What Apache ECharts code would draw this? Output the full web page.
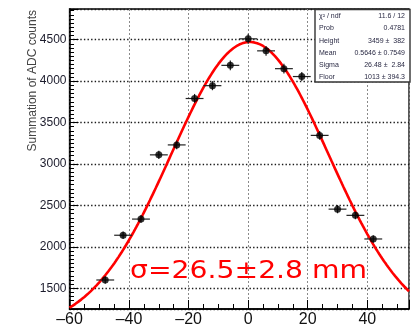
<!DOCTYPE html>
<html>
<head>
<meta charset="utf-8">
<script src="https://cdn.jsdelivr.net/npm/echarts@6/dist/echarts.min.js"></script>
<style>
  html, body { margin: 0; padding: 0; background: #fff; }
  #chart { width: 412px; height: 328px; }
</style>
</head>
<body>
<div id="chart"></div>
<script>
// Beam profile: summed ADC counts per position bin, with Gaussian + floor fit
const binCenters = [-48, -42, -36, -30, -24, -18, -12, -6, 0, 6, 12, 18, 24, 30, 36, 42];
const counts     = [1600, 2140, 2335, 3110, 3230, 3790, 3945, 4190, 4510, 4365, 4150, 4055, 3345, 2455, 2380, 2095];
const xErrors    = [3, 3, 3, 3, 3, 3, 3, 3, 3, 3, 3, 3, 3, 3, 3, 3];
const yErrors    = [45, 45, 48, 50, 52, 55, 55, 58, 60, 58, 58, 55, 52, 50, 48, 45];

// Fit parameters (shown in the statistics box)
const fitHeight = 3459;
const fitMean = 0.5646;
const fitSigma = 26.48;
const fitFloor = 1013;

const statNames  = ['\u03C7\u00B2 / ndf', 'Prob', 'Height', 'Mean', 'Sigma', 'Floor'];
const statValues = ['11.6 / 12', '0.4781', '3459 \u00B1  382', '0.5646 \u00B1 0.7549', '26.48 \u00B1  2.84', '1013 \u00B1 394.3'];

const xTickLabels = [-60, -40, -20, 0, 20, 40];
const yTickLabels = [1500, 2000, 2500, 3000, 3500, 4000, 4500];

const xMin = -60, xMax = 54;
const yMin = 1250, yMax = 4870;

const annotation = '\u03C3=26.5\u00B12.8 mm';
const yTitle = 'Summation of ADC counts';

// Fit curve sampled along the x range
const fitCurve = [];
for (let x = xMin; x <= xMax + 1e-9; x += 0.5) {
  const u = (x - fitMean) / fitSigma;
  fitCurve.push([x, fitFloor + fitHeight * Math.exp(-0.5 * u * u)]);
}

const points = binCenters.map((x, i) => [x, counts[i], xErrors[i], yErrors[i]]);

const chart = echarts.init(document.getElementById('chart'), null, { renderer: 'canvas' });

const FONT = 'Liberation Sans, Arial, sans-serif';

const statGraphics = [];
const boxX = 315, boxY = 9.5, boxW = 95, boxH = 72.5;
statGraphics.push({
  type: 'rect',
  shape: { x: boxX, y: boxY, width: boxW, height: boxH },
  style: { fill: '#fff', stroke: '#333', lineWidth: 1.4 },
  z: 100
});
statNames.forEach((name, i) => {
  const ty = 16 + i * 12.3;
  statGraphics.push({
    type: 'text', x: boxX + 4, y: ty, z: 101,
    style: { text: name, font: '7px ' + FONT, fill: '#2a2a44', align: 'left', verticalAlign: 'middle' }
  });
  statGraphics.push({
    type: 'text', x: boxX + boxW - 5, y: ty, z: 101,
    style: { text: statValues[i], font: '7px ' + FONT, fill: '#2a2a44', align: 'right', verticalAlign: 'middle' }
  });
});

const option = {
  animation: false,
  backgroundColor: '#fff',
  grid: {
    left: 69.5, right: 3, top: 9, bottom: 19,
    show: true, borderColor: '#000', borderWidth: 1.3, backgroundColor: 'transparent'
  },
  xAxis: [
    {
      // fine ticks every 5 units
      type: 'value', min: xMin, max: xMax, interval: 5, position: 'bottom',
      axisLine: { show: true, onZero: false, lineStyle: { color: '#000', width: 1.5 } },
      axisTick: { show: true, inside: true, length: 5, lineStyle: { color: '#000', width: 1 } },
      axisLabel: { show: false },
      splitLine: { show: false }
    },
    {
      // major ticks, labels and grid every 20 units
      type: 'value', min: xMin, max: xMax, interval: 20, position: 'bottom',
      axisLine: { show: false, onZero: false },
      axisTick: { show: true, inside: true, length: 9, lineStyle: { color: '#000', width: 1 } },
      axisLabel: {
        show: true, margin: 3, fontSize: 16, color: '#111', fontFamily: FONT,
        formatter: v => xTickLabels.indexOf(v) >= 0 ? String(v).replace('-', '\u2013') : ''
      },
      splitLine: { show: true, lineStyle: { color: '#8a8a8a', width: 1, type: [2, 2] } }
    }
  ],
  yAxis: [
    {
      // fine ticks every 50 counts, labels every 500
      type: 'value', min: yMin, max: yMax, interval: 50, position: 'left',
      axisLine: { show: true, onZero: false, lineStyle: { color: '#000', width: 1.5 } },
      axisTick: { show: true, inside: true, length: 4.5, lineStyle: { color: '#000', width: 1 } },
      axisLabel: {
        show: true, margin: 3, fontSize: 12, color: '#1c1c2c', fontFamily: FONT,
        formatter: v => yTickLabels.indexOf(v) >= 0 ? String(v) : ''
      },
      splitLine: { show: false }
    },
    {
      // major ticks and grid every 500 counts
      type: 'value', min: yMin, max: yMax, splitNumber: 7, position: 'left',
      axisLine: { show: false, onZero: false },
      axisTick: { show: true, inside: true, length: 9, lineStyle: { color: '#000', width: 1 } },
      axisLabel: { show: false },
      splitLine: { show: true, lineStyle: { color: '#1a1a1a', width: 1.4, type: [1.4, 2.2] } }
    }
  ],
  series: [
    {
      type: 'line', name: 'fit', data: fitCurve, xAxisIndex: 0, yAxisIndex: 0,
      showSymbol: false, clip: true, z: 3,
      lineStyle: { color: '#f00', width: 2.6 }
    },
    {
      type: 'custom', name: 'errors', data: points, xAxisIndex: 0, yAxisIndex: 0, z: 4,
      renderItem: (params, api) => {
        const x = api.value(0), y = api.value(1), ex = api.value(2), ey = api.value(3);
        const l = api.coord([x - ex, y]), r = api.coord([x + ex, y]);
        const t = api.coord([x, y + ey]), b = api.coord([x, y - ey]);
        return {
          type: 'group',
          children: [
            { type: 'line', shape: { x1: l[0], y1: l[1], x2: r[0], y2: r[1] }, style: { stroke: '#222', lineWidth: 1.2 } },
            { type: 'line', shape: { x1: t[0], y1: t[1], x2: b[0], y2: b[1] }, style: { stroke: '#222', lineWidth: 1.2 } }
          ]
        };
      }
    },
    {
      type: 'scatter', name: 'data', data: points.map(p => [p[0], p[1]]), xAxisIndex: 0, yAxisIndex: 0,
      symbol: 'circle', symbolSize: 7, z: 5,
      itemStyle: { color: '#000' }
    }
  ],
  graphic: [
    {
      type: 'text', x: 33, y: 10, rotation: Math.PI / 2,
      style: { text: yTitle, font: '12px ' + FONT, fill: '#444', align: 'right', verticalAlign: 'middle' }
    },
    {
      type: 'text', x: 130, y: 271, scaleX: 1.13, z: 50,
      style: { text: annotation, font: '25px DejaVu Sans, sans-serif', fill: '#ff0000', align: 'left', verticalAlign: 'middle' }
    }
  ].concat(statGraphics)
};

chart.setOption(option);
</script>
</body>
</html>
